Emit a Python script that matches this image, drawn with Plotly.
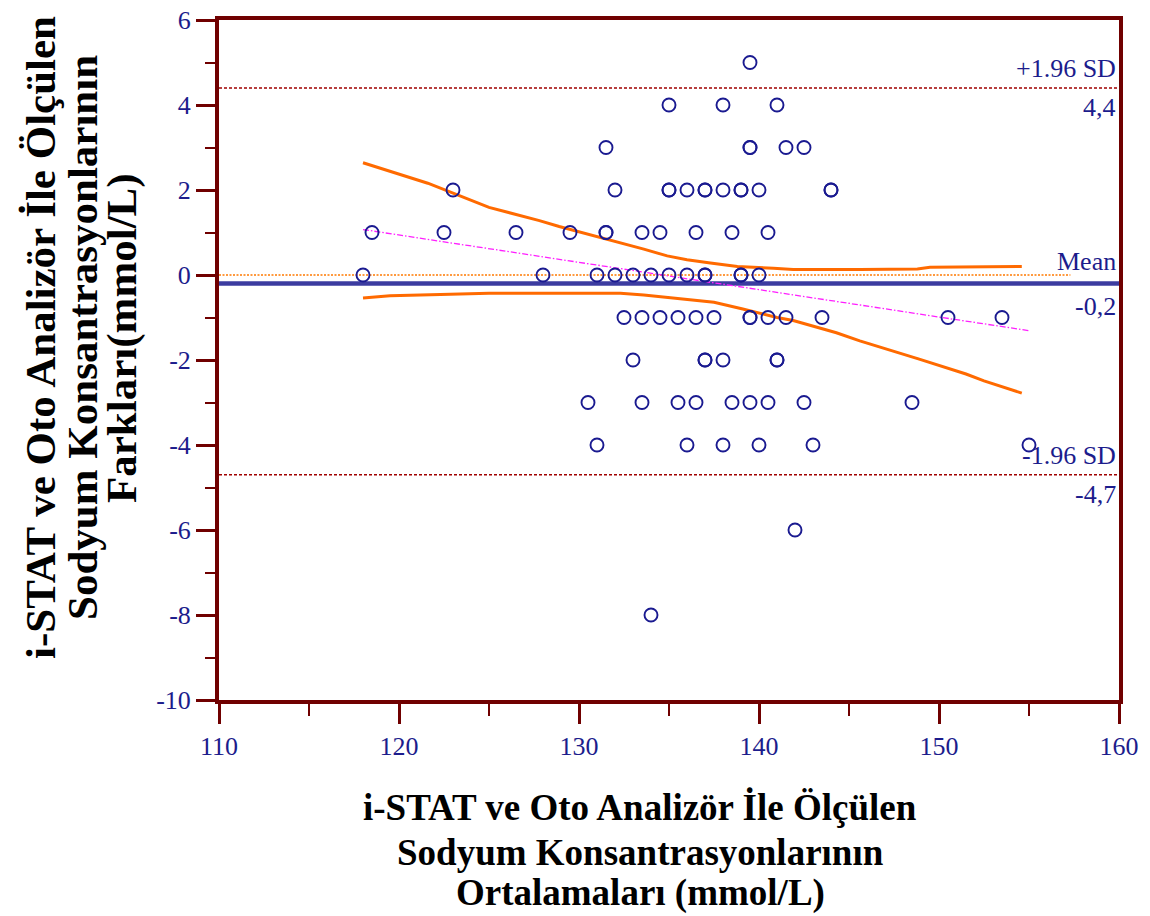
import plotly.graph_objects as go

# ---- data ----
diff_x = [139.5,
          135, 138, 141,
          131.5, 139.5, 141.5, 142.5, 139.5,
          123, 132, 135, 136, 137, 138, 139, 140, 144, 135, 137, 139, 144,
          118.5, 122.5, 126.5, 129.5, 131.5, 133.5, 134.5, 136.5, 138.5, 140.5, 131.5,
          118, 128, 131, 132, 133, 134, 135, 136, 137, 139, 140, 137, 139,
          132.5, 133.5, 134.5, 135.5, 136.5, 137.5, 139.5, 140.5, 141.5, 143.5, 150.5, 153.5, 139.5,
          133, 137, 138, 141, 137, 141,
          130.5, 133.5, 135.5, 136.5, 138.5, 139.5, 140.5, 142.5, 148.5,
          131, 136, 138, 140, 143, 155,
          142,
          134]
diff_y = [5,
          4, 4, 4,
          3, 3, 3, 3, 3,
          2, 2, 2, 2, 2, 2, 2, 2, 2, 2, 2, 2, 2,
          1, 1, 1, 1, 1, 1, 1, 1, 1, 1, 1,
          0, 0, 0, 0, 0, 0, 0, 0, 0, 0, 0, 0, 0,
          -1, -1, -1, -1, -1, -1, -1, -1, -1, -1, -1, -1, -1,
          -2, -2, -2, -2, -2, -2,
          -3, -3, -3, -3, -3, -3, -3, -3, -3,
          -4, -4, -4, -4, -4, -4,
          -6,
          -8]

mean_diff = -0.2
upper_sd = 4.4
lower_sd = -4.7
zero_x = [110, 157.3]
zero_y = [0, 0]

reg_x = [118.0, 155.0]
reg_y = [1.07, -1.31]

ci_up_x = [118.0, 121.6, 125.0, 127.8, 128.9, 130.8, 132.3, 133.6, 134.9, 136.0, 137.3, 138.8,
           140.8, 141.9, 145.6, 148.8, 149.5, 152.5, 154.6]
ci_up_y = [2.64, 2.16, 1.59, 1.28, 1.14, 0.93, 0.75, 0.61, 0.45, 0.36, 0.28, 0.20,
           0.16, 0.13, 0.13, 0.14, 0.18, 0.20, 0.20]
ci_lo_x = [118.0, 119.5, 122.3, 125.0, 128.9, 132.3, 133.6, 135.4, 137.5, 139.1, 141.0, 141.9,
           143.4, 144.3, 145.6, 147.1, 148.9, 151.5, 152.5, 154.6]
ci_lo_y = [-0.54, -0.49, -0.46, -0.43, -0.43, -0.43, -0.47, -0.55, -0.64, -0.80, -1.00, -1.07,
           -1.26, -1.36, -1.55, -1.74, -1.98, -2.33, -2.49, -2.78]

x_ticks = [110, 120, 130, 140, 150, 160]
x_labels = ["110", "120", "130", "140", "150", "160"]
y_ticks = [6, 4, 2, 0, -2, -4, -6, -8, -10]
y_labels = ["6", "4", "2", "0", "-2", "-4", "-6", "-8", "-10"]

NAVY = "#1c1c8c"
AXIS = "#700000"
SERIF = "Liberation Serif"

fig = go.Figure()

# lines
fig.add_trace(go.Scatter(x=[110, 160], y=[upper_sd, upper_sd], mode="lines",
                         line=dict(color="#a00000", width=1.3, dash="3px,2px"), hoverinfo="skip"))
fig.add_trace(go.Scatter(x=[110, 160], y=[lower_sd, lower_sd], mode="lines",
                         line=dict(color="#a00000", width=1.3, dash="3px,2px"), hoverinfo="skip"))
fig.add_trace(go.Scatter(x=zero_x, y=zero_y, mode="lines",
                         line=dict(color="#ff7a00", width=1.3, dash="2px,1.5px"), hoverinfo="skip"))
fig.add_trace(go.Scatter(x=[110, 160], y=[mean_diff, mean_diff], mode="lines",
                         line=dict(color="#3c3ca0", width=4.5), hoverinfo="skip"))
fig.add_trace(go.Scatter(x=reg_x, y=reg_y, mode="lines",
                         line=dict(color="#ff20ff", width=1.3, dash="6px,2px,1.5px,2px"), hoverinfo="skip"))
fig.add_trace(go.Scatter(x=ci_up_x, y=ci_up_y, mode="lines",
                         line=dict(color="#ff6a00", width=3), hoverinfo="skip"))
fig.add_trace(go.Scatter(x=ci_lo_x, y=ci_lo_y, mode="lines",
                         line=dict(color="#ff6a00", width=3), hoverinfo="skip"))

# points
fig.add_trace(go.Scatter(x=diff_x, y=diff_y, mode="markers",
                         marker=dict(symbol="circle-open", size=13, color="#1a1a90",
                                     line=dict(width=1.9, color="#1a1a90"))))

# right side labels
lab_font = dict(family=SERIF, size=26, color=NAVY)
for text, yv, anchor, shift in [("+1.96 SD", upper_sd, "bottom", 3), ("4,4", upper_sd, "top", -3),
                                ("Mean", mean_diff, "bottom", 6), ("-0,2", mean_diff, "top", -6),
                                ("-1.96 SD", lower_sd, "bottom", 3), ("-4,7", lower_sd, "top", -3)]:
    fig.add_annotation(x=160, y=yv, xref="x", yref="y", text=text, showarrow=False,
                       xanchor="right", yanchor=anchor, yshift=shift, xshift=-1, font=lab_font)

# axis titles (as annotations, one per line)
tfont = dict(family=SERIF, size=37, color="black")
for text, ypx in [("<b>i-STAT ve Oto Analizör İle Ölçülen</b>", 808),
                  ("<b>Sodyum Konsantrasyonlarının</b>", 852),
                  ("<b>Ortalamaları (mmol/L)</b>", 893)]:
    fig.add_annotation(x=(640 - 219) / 900, y=(700 - ypx) / 680, xref="paper", yref="paper",
                       text=text, showarrow=False, xanchor="center", yanchor="middle", font=tfont)
yfont = dict(family=SERIF, size=43, color="black")
for text, xpx in [("<b>i-STAT ve Oto Analizör İle Ölçülen</b>", 40),
                  ("<b>Sodyum Konsantrasyonlarının</b>", 82),
                  ("<b>Farkları(mmol/L)</b>", 122)]:
    fig.add_annotation(x=(xpx - 219) / 900, y=(700 - 338) / 680, xref="paper", yref="paper",
                       text=text, showarrow=False, textangle=-90, xanchor="center", yanchor="middle",
                       font=yfont)

fig.update_layout(
    width=1150, height=916,
    margin=dict(l=219, r=31, t=20, b=216),
    paper_bgcolor="white", plot_bgcolor="white",
    showlegend=False,
    xaxis=dict(range=[110, 160], tickvals=x_ticks, ticktext=x_labels, showgrid=False, zeroline=False,
               showline=True, linecolor=AXIS, linewidth=4, mirror=True, automargin=False,
               ticks="outside", ticklen=20, tickwidth=3, tickcolor=AXIS,
               minor=dict(dtick=5, tick0=110, ticks="outside", ticklen=12, tickwidth=2, tickcolor=AXIS),
               tickfont=dict(family=SERIF, size=26, color=NAVY)),
    yaxis=dict(range=[-10, 6], tickvals=y_ticks, ticktext=y_labels, showgrid=False, zeroline=False,
               showline=True, linecolor=AXIS, linewidth=4, mirror=True, automargin=False,
               ticks="outside", ticklen=19, tickwidth=3, tickcolor=AXIS,
               minor=dict(dtick=1, tick0=0, ticks="outside", ticklen=10, tickwidth=2, tickcolor=AXIS),
               tickfont=dict(family=SERIF, size=26, color=NAVY)),
)

fig.write_html("out.html", config={"displayModeBar": False},
               post_script="document.body.style.margin='0';document.body.style.overflow='hidden';")
